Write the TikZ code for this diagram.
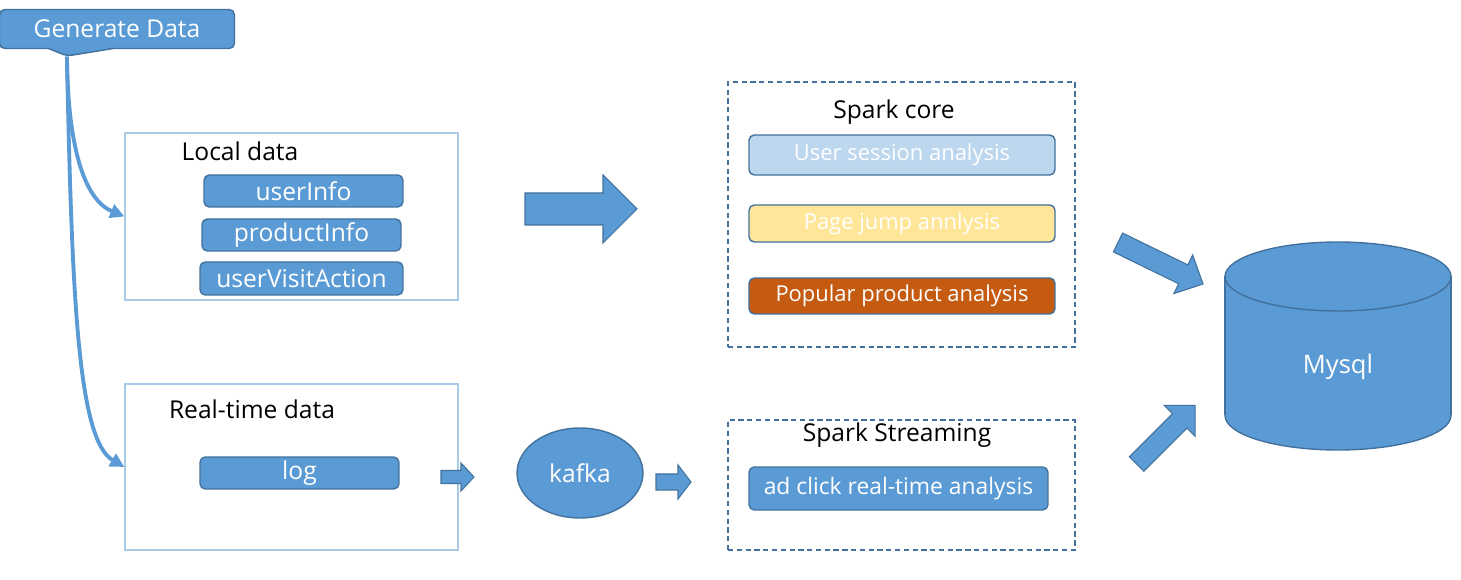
\documentclass[tikz,border=0pt]{standalone}
\usepackage{fontspec}
\setmainfont{Open Sans}
\usetikzlibrary{arrows.meta,shapes.geometric,shapes.callouts}
\definecolor{boxblue}{HTML}{5B9BD5}
\definecolor{edgeblue}{HTML}{41719C}
\definecolor{paleblue}{HTML}{BDD7EE}
\definecolor{frameblue}{HTML}{A9CBEA}
\definecolor{paleyellow}{HTML}{FFE699}
\definecolor{rust}{HTML}{C55A11}
% block arrow: (x,y) of tail centre, angle, length, body width, head width, head length
\def\blockarrow(#1,#2)(#3:#4:#5:#6:#7){\begin{scope}[shift={(#1,#2)},rotate=#3]\draw[fill=boxblue,draw=edgeblue,line width=0.6pt] (0,-#5/2) -- (#4-#7,-#5/2) -- (#4-#7,-#6/2) -- (#4,0) -- (#4-#7,#6/2) -- (#4-#7,#5/2) -- (0,#5/2) -- cycle;\end{scope}}

\tikzset{
	item/.style={draw=edgeblue, fill=boxblue, line width=0.8pt, rounded corners=3pt, text=white, font=\fontsize{14}{16}\selectfont, inner sep=0pt},
	frame/.style={draw=frameblue, line width=0.8pt, inner sep=0pt},
	dashframe/.style={draw=edgeblue, line width=0.8pt, dash pattern=on 3pt off 2pt, inner sep=0pt},
	title/.style={font=\fontsize{14}{16}\selectfont, text=black},
	job/.style={item, font=\fontsize{12.5}{15}\selectfont, minimum width=6.12cm},
	feed/.style={boxblue, line width=2.2pt, -{Triangle[length=8pt,width=8pt]}}
}

\begin{document}
\begin{tikzpicture}[x=0.02cm,y=-0.02cm]
			%%%%% START %%%%%
			
			\useasboundingbox (0,0) rectangle (1461,580);
			
			\node[item, rectangle callout, callout absolute pointer={(67,56)}, callout pointer width=1.3cm, minimum width=4.7cm, minimum height=0.78cm] (gen) at (117,29) {Generate Data};
			
			% local data
			\node[frame, minimum width=6.66cm, minimum height=3.34cm] (local) at (291.5,216.5) {};
			\node[title] (localt) at (240,151) {Local data};
			\node[item, minimum width=3.98cm, minimum height=0.64cm] (user) at (303.5,191) {userInfo};
			\node[item, minimum width=3.98cm, minimum height=0.64cm] (product) at (301.5,235) {productInfo};
			\node[item, minimum width=4.06cm, minimum height=0.66cm] (visit) at (301.5,278.5) {userVisitAction};
			
			% real-time data
			\node[frame, minimum width=6.66cm, minimum height=3.32cm] (realtime) at (291.5,467) {};
			\node[title] (realtimet) at (252,409) {Real-time data};
			\node[item, minimum width=3.98cm, minimum height=0.64cm] (log) at (299.5,473) {log};
			
			\draw[feed] (gen.pointer) .. controls (68,150) and (85,200) .. (local.west);
			\draw[feed] (gen.pointer) .. controls (72,300) and (78,440) .. (realtime.west);
			
			\node[item, ellipse, minimum width=2.52cm, minimum height=1.8cm] (kafka) at (580,473) {kafka};
			
			% spark core
			\node[dashframe, minimum width=6.94cm, minimum height=5.3cm] (core) at (901.5,214.5) {};
			\node[title] (coret) at (894,112) {Spark core};
			\node[job, fill=paleblue, minimum height=0.8cm] (session) at (902,155) {User session analysis};
			\node[job, fill=paleyellow, minimum height=0.74cm] (jump) at (902,223.5) {Page jump annlysis};
			\node[job, fill=rust, minimum height=0.72cm] (popular) at (902,296) {Popular product analysis};
			
			% spark streaming
			\node[dashframe, minimum width=6.94cm, minimum height=2.6cm] (stream) at (901.5,485) {};
			\node[title] (streamt) at (897,435) {Spark Streaming};
			\node[item, font=\fontsize{13}{15}\selectfont, minimum width=5.98cm, minimum height=0.86cm] (adclick) at (898.5,488.5) {ad click real-time analysis};
			
			% mysql
			\draw[fill=boxblue, draw=edgeblue, line width=0.8pt] (1338,415.5) ellipse [x radius=2.26cm, y radius=0.69cm];
			\fill[boxblue] (1225,276.5) rectangle (1451,415.5);
			\draw[edgeblue, line width=0.8pt] (1225,276.5) -- (1225,415.5);
			\draw[edgeblue, line width=0.8pt] (1451,276.5) -- (1451,415.5);
			\draw[fill=boxblue, draw=edgeblue, line width=0.8pt] (1338,276.5) ellipse [x radius=2.26cm, y radius=0.69cm];
			\node[text=white, font=\fontsize{14.5}{17}\selectfont] (mysql) at (1338,367) {Mysql};
			
			% block arrows
			\blockarrow(525,209)(0:112:32:68:34)
			\blockarrow(441,477)(0:33:13:28:13)
			\blockarrow(656,482)(0:35:16:34:13)
			\blockarrow(1118,242.5)(-26:94.6:21:43:22)
			\blockarrow(1136.5,464)(45:83:20.5:44:22)
			
			%%%%% END %%%%%
		\end{tikzpicture}
\end{document}
